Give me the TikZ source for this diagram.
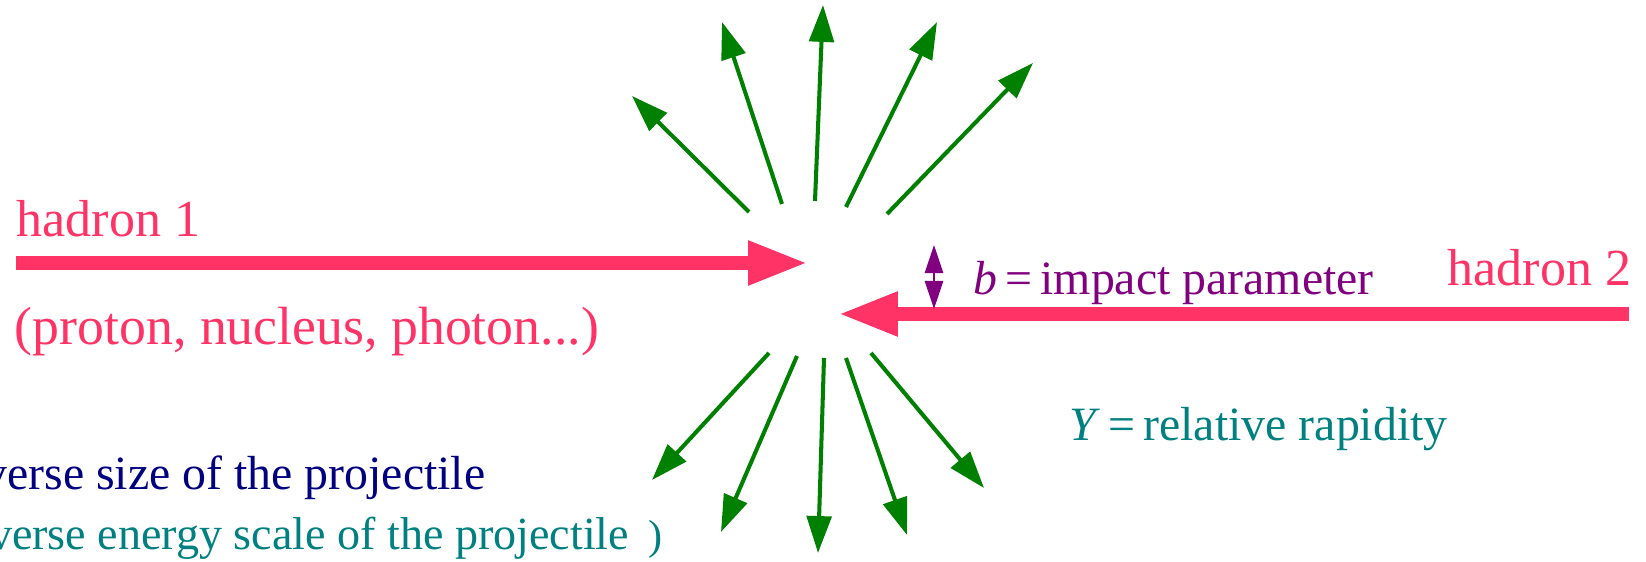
\documentclass[tikz,border=0pt]{standalone}
\usepackage{fontspec}
\setmainfont{Liberation Serif}
\usetikzlibrary{arrows.meta}
\definecolor{beampink}{RGB}{255,51,102}
\definecolor{jetgreen}{RGB}{0,128,0}
\definecolor{bpurple}{RGB}{128,0,128}
\definecolor{yteal}{RGB}{0,128,128}
\definecolor{rnavy}{RGB}{0,0,128}
\tikzset{
  beam/.style={beampink,line width=4pt,-{Triangle[length=17pt,width=11.6pt]}},
  jet/.style={jetgreen,line width=1.15pt,-{Triangle[length=10.5pt,width=7pt]}},
  impact/.style={bpurple,line width=0.6pt,{Triangle[length=8pt,width=5.2pt]}-{Triangle[length=8pt,width=5.2pt]}},
  lbl/.style={inner sep=0pt,font=\fontsize{14.8}{18}\selectfont},
  note/.style={inner sep=0pt,font=\fontsize{13.6}{16}\selectfont}
}

\begin{document}
\begin{tikzpicture}[x=0.01cm,y=-0.01cm]
    \useasboundingbox (0,0) rectangle (1646,562);
    \coordinate (h1s) at (16,263);
    \coordinate (h1e) at (808,263);
    \coordinate (h2s) at (1629,314);
    \coordinate (h2e) at (838,314);
    \draw[beam] (h1s) -- (h1e);
    \draw[beam] (h2s) -- (h2e);
    \coordinate (btop) at (934,245);
    \coordinate (bbot) at (934,309);
    \draw[impact] (btop) -- (bbot);
    \coordinate (u1s) at (749,212);  \coordinate (u1e) at (632,96);
    \coordinate (u2s) at (782,204);  \coordinate (u2e) at (722,22);
    \coordinate (u3s) at (815,201);  \coordinate (u3e) at (823,5);
    \coordinate (u4s) at (846,207);  \coordinate (u4e) at (937,22);
    \coordinate (u5s) at (887,214);  \coordinate (u5e) at (1033,63);
    \coordinate (d1s) at (769,353);  \coordinate (d1e) at (652,480);
    \coordinate (d2s) at (797,356);  \coordinate (d2e) at (721,532);
    \coordinate (d3s) at (824,358);  \coordinate (d3e) at (818,553);
    \coordinate (d4s) at (846,358);  \coordinate (d4e) at (907,535);
    \coordinate (d5s) at (871,353);  \coordinate (d5e) at (984,488);
    \draw[jet] (u1s) -- (u1e);
    \draw[jet] (u2s) -- (u2e);
    \draw[jet] (u3s) -- (u3e);
    \draw[jet] (u4s) -- (u4e);
    \draw[jet] (u5s) -- (u5e);
    \draw[jet] (d1s) -- (d1e);
    \draw[jet] (d2s) -- (d2e);
    \draw[jet] (d3s) -- (d3e);
    \draw[jet] (d4s) -- (d4e);
    \draw[jet] (d5s) -- (d5e);
    \node[lbl,beampink,anchor=base west] (had1) at (16,237) {hadron 1};
    \node[lbl,beampink,anchor=base west,font=\fontsize{15.3}{18}\selectfont] (kind) at (14,345) {(proton, nucleus, photon...)};
    \node[lbl,beampink,anchor=base east] (had2) at (1632,286) {hadron 2};
    \node[note,bpurple,anchor=base west] (bpar) at (973,295) {\textit{b}\,=\,impact parameter};
    \node[note,yteal,anchor=base west] (rap) at (1069,441) {\textit{Y}\,=\,relative rapidity};
    \node[note,rnavy,anchor=base east] (size) at (486,490) {verse size of the projectile};
    \node[note,yteal,anchor=base east,font=\fontsize{13.1}{16}\selectfont] (escale) at (663,550) {verse energy scale of the projectile\, {\large )}};
\end{tikzpicture}
\end{document}
